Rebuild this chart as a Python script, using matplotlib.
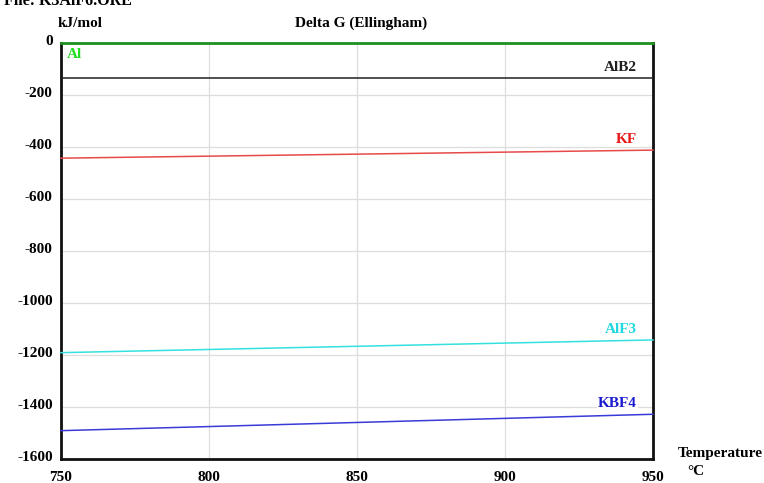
import matplotlib.pyplot as plt
from matplotlib.transforms import ScaledTranslation

plt.rcParams['font.family'] = ['Liberation Serif', 'DejaVu Serif']
plt.rcParams['font.weight'] = 'bold'

# temperature range (°C) and delta G at both ends (kJ/mol)
temps = [750, 950]
species = ['Al', 'AlB2', 'KF', 'AlF3', 'KBF4']
delta_g = {
    'Al':   [0, 0],
    'AlB2': [-135, -135],
    'KF':   [-443, -412],
    'AlF3': [-1191, -1142],
    'KBF4': [-1491, -1428],
}
colors = {
    'Al': '#1f8f1f',
    'AlB2': '#202020',
    'KF': '#e84a4a',
    'AlF3': '#35e0e0',
    'KBF4': '#3a3ad8',
}
label_colors = {
    'Al': '#22dd22',
    'AlB2': '#202020',
    'KF': '#e81818',
    'AlF3': '#20d8e0',
    'KBF4': '#1a1ad0',
}

xticks = [750, 800, 850, 900, 950]
yticks = [0, -200, -400, -600, -800, -1000, -1200, -1400, -1600]

fig = plt.figure(figsize=(7.64, 4.83), dpi=100)
ax = fig.add_axes([0.0798, 0.0497, 0.7749, 0.8613])

for name in species:
    lw = 2.0 if name == 'Al' else 1.1
    ax.plot(temps, delta_g[name], color=colors[name], lw=lw, zorder=3, clip_on=False)

ax.set_xlim(750, 950)
ax.set_ylim(-1600, 0)
ax.set_xticks(xticks)
ax.set_yticks(yticks)
ax.set_xticklabels([str(t) for t in xticks], fontsize=11)
ax.set_yticklabels([str(t) for t in yticks], fontsize=11)
ax.tick_params(axis='x', length=0, pad=9)
ax.tick_params(axis='y', length=0, pad=6)
# y labels sit slightly above their grid lines
shift = ScaledTranslation(0, 2.5 / 72, fig.dpi_scale_trans)
for lbl in ax.get_yticklabels():
    lbl.set_transform(lbl.get_transform() + shift)
ax.grid(True, color='#dddddd', lw=0.9)

for side in ['left', 'bottom', 'right']:
    ax.spines[side].set_linewidth(2.0)
    ax.spines[side].set_color('#111111')
ax.spines['top'].set_visible(False)

# curve names, right aligned near the end of each line
for name in ['AlB2', 'KF', 'AlF3', 'KBF4']:
    ax.text(944.6, delta_g[name][1] + 16, name, color=label_colors[name],
            ha='right', va='bottom', fontsize=11, zorder=4,
            bbox=dict(facecolor='white', edgecolor='none', pad=1))
ax.text(752, -20, 'Al', color=label_colors['Al'], ha='left', va='top',
        fontsize=11, zorder=4)

fig.text(0.4725, 0.952, 'Delta G (Ellingham)', ha='center', va='center', fontsize=11)
fig.text(0.076, 0.952, 'kJ/mol', ha='left', va='center', fontsize=11)
fig.text(0.005, 0.9897, 'File: K3AlF6.ORE', ha='left', va='baseline', fontsize=11.5)
fig.text(0.887, 0.062, 'Temperature', ha='left', va='center', fontsize=11)
fig.text(0.899, 0.023, '°C', ha='left', va='center', fontsize=11)

fig.savefig('out.png', dpi=100)
